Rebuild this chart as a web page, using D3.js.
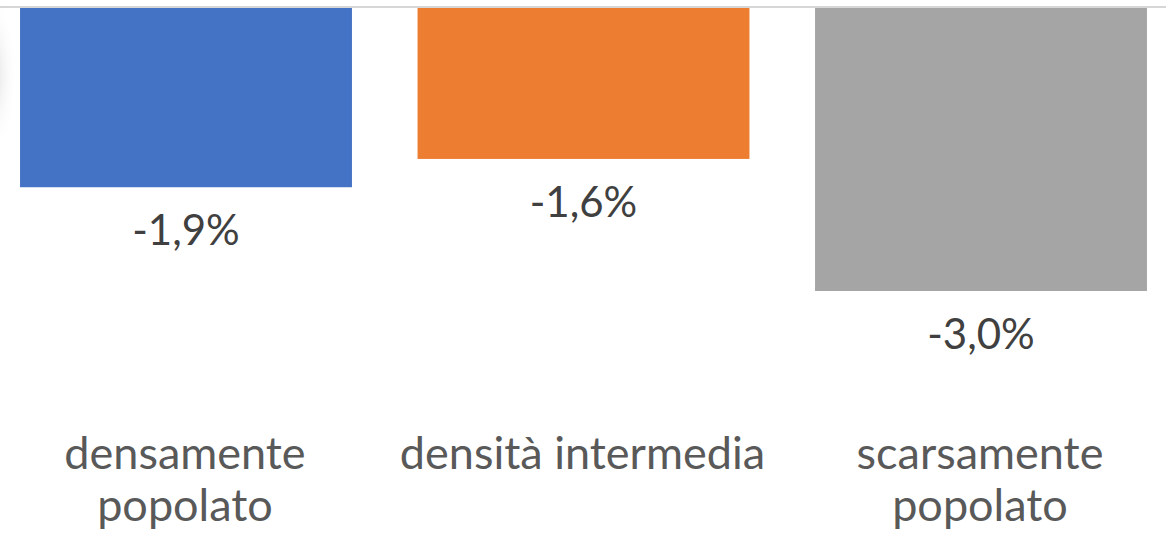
<!DOCTYPE html>
<html>
<head>
<meta charset="utf-8">
<script src="https://cdn.jsdelivr.net/npm/d3@7"></script>
<style>
  html, body { margin: 0; padding: 0; background: #ffffff; }
  svg { display: block; }
  text { font-family: Lato, "Open Sans", "Noto Sans", sans-serif; }
</style>
</head>
<body>
<svg id="chart" width="1166" height="533"></svg>
<script>
// Variazione percentuale per grado di urbanizzazione
const categories = ["densamente popolato", "densità intermedia", "scarsamente popolato"];
const categoryLines = [["densamente", "popolato"], ["densità intermedia"], ["scarsamente", "popolato"]];
const values = [-1.9, -1.6, -3.0];
const colors = ["#4472c4", "#ed7d31", "#a5a5a5"];

const svg = d3.select("#chart");
const W = 1166, H = 533;

const x = d3.scaleBand()
  .domain(categories)
  .range([-12.75, 1179.75])
  .paddingInner(0.165)
  .paddingOuter(0.0825);

const y = d3.scaleLinear()
  .domain([0, -3.0])
  .range([8, 291]);

// soft shadow at the left edge
const defs = svg.append("defs");
const grad = defs.append("radialGradient").attr("id", "edgeShade");
grad.append("stop").attr("offset", "0%").attr("stop-color", "#d8d8d8").attr("stop-opacity", 0.9);
grad.append("stop").attr("offset", "100%").attr("stop-color", "#ffffff").attr("stop-opacity", 0);
svg.append("ellipse")
  .attr("cx", -8).attr("cy", 75).attr("rx", 26).attr("ry", 80)
  .attr("fill", "url(#edgeShade)");

// bars
svg.append("g").selectAll("rect")
  .data(categories)
  .join("rect")
  .attr("x", d => x(d))
  .attr("width", x.bandwidth())
  .attr("y", y(0))
  .attr("height", (d, i) => y(values[i]) - y(0))
  .attr("fill", (d, i) => colors[i]);

// zero line
svg.append("line")
  .attr("x1", 0).attr("x2", W)
  .attr("y1", y(0) - 1).attr("y2", y(0) - 1)
  .attr("stroke", "#d6d6d6")
  .attr("stroke-width", 2);

// value labels
const fmt = v => d3.format(".1f")(v).replace("−", "-").replace(".", ",") + "%";
svg.append("g").selectAll("text")
  .data(categories)
  .join("text")
  .attr("x", d => x(d) + x.bandwidth() / 2)
  .attr("y", (d, i) => y(values[i]) + 58)
  .attr("text-anchor", "middle")
  .attr("fill", "#404040")
  .attr("font-size", 42)
  .text((d, i) => fmt(values[i]));

// category labels
const cat = svg.append("g").selectAll("text")
  .data(categories)
  .join("text")
  .attr("x", d => x(d) + x.bandwidth() / 2 - 1)
  .attr("y", 469)
  .attr("text-anchor", "middle")
  .attr("fill", "#595959")
  .attr("font-size", 45);
cat.selectAll("tspan")
  .data((d, i) => categoryLines[i])
  .join("tspan")
  .attr("x", function () { return d3.select(this.parentNode).attr("x"); })
  .attr("dy", (d, j) => j === 0 ? 0 : 52)
  .text(d => d);
</script>
</body>
</html>
